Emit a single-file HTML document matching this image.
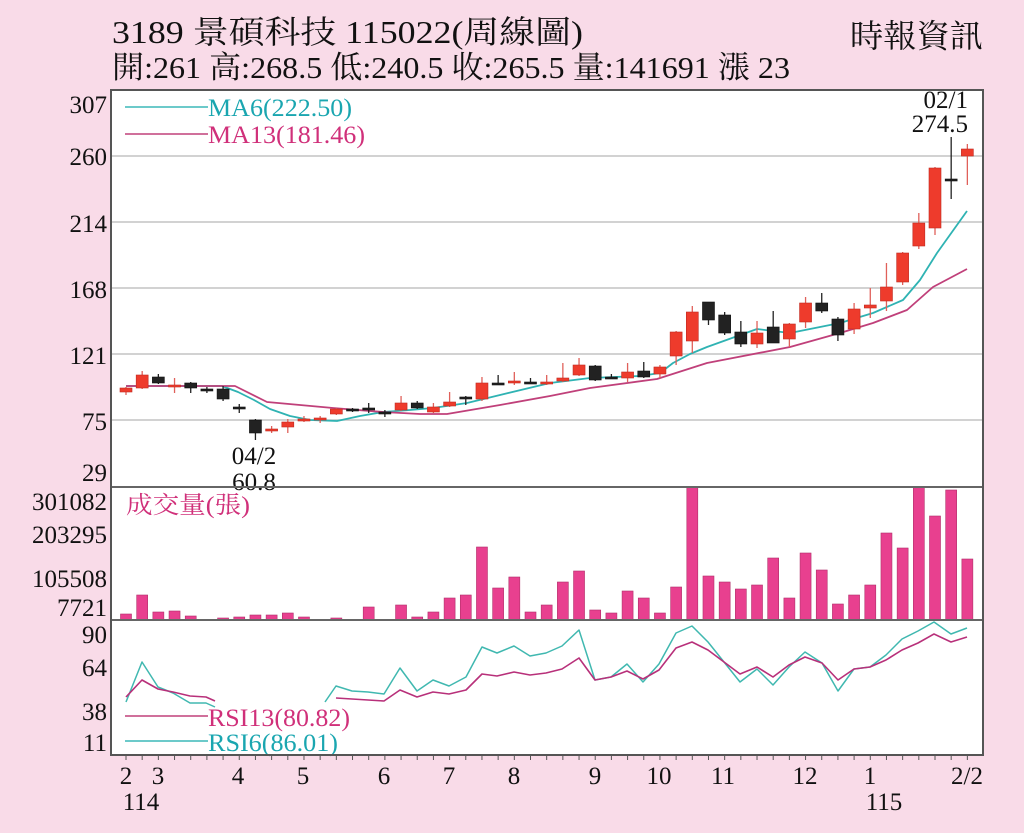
<!DOCTYPE html>
<html><head><meta charset="utf-8"><style>
html,body{margin:0;padding:0;background:#f9dbe8;}
svg{display:block}
text{font-family:"Liberation Serif","Noto Serif CJK SC",serif;}
</style></head><body>
<svg id="s" width="1024" height="833" viewBox="0 0 1024 833" xmlns="http://www.w3.org/2000/svg">
<rect x="0" y="0" width="1024" height="833" fill="#f9dbe8"/>
<text x="112" y="43" font-size="32" fill="#111" textLength="471" lengthAdjust="spacingAndGlyphs">3189  景碩科技 115022(周線圖)</text>
<text x="112" y="78" font-size="31" fill="#111" textLength="678" lengthAdjust="spacingAndGlyphs">開:261 高:268.5 低:240.5 收:265.5 量:141691 漲 23</text>
<text x="850" y="47" font-size="32" fill="#111" textLength="133" lengthAdjust="spacingAndGlyphs">時報資訊</text>
<rect x="111" y="90" width="872" height="665" fill="#fff"/>
<g stroke="#c4c4c4" stroke-width="1.5">
<line x1="111" y1="156" x2="983" y2="156"/><line x1="111" y1="222" x2="983" y2="222"/>
<line x1="111" y1="288" x2="983" y2="288"/><line x1="111" y1="354" x2="983" y2="354"/>
<line x1="111" y1="420" x2="983" y2="420"/>
</g>
<g font-size="25" fill="#111" text-anchor="end">
<text x="107" y="113">307</text><text x="107" y="165">260</text><text x="107" y="232">214</text>
<text x="107" y="298">168</text><text x="107" y="364">121</text><text x="107" y="430">75</text>
<text x="107" y="481">29</text>
<text x="107" y="510">301082</text><text x="107" y="543">203295</text><text x="107" y="587">105508</text>
<text x="107" y="616">7721</text>
<text x="107" y="643">90</text><text x="107" y="676">64</text><text x="107" y="720">38</text><text x="107" y="751">11</text>
</g>
<g id="g"></g>
<line x1="125" y1="107" x2="208" y2="107" stroke="#3bb8b8" stroke-width="1.5"/>
<text x="208" y="116" font-size="25" fill="#1aa6b0" textLength="144" lengthAdjust="spacingAndGlyphs">MA6(222.50)</text>
<line x1="125" y1="134" x2="208" y2="134" stroke="#c0407a" stroke-width="1.5"/>
<text x="208" y="143" font-size="25" fill="#d0307a" textLength="157" lengthAdjust="spacingAndGlyphs">MA13(181.46)</text>
<text x="126" y="513" font-size="24" fill="#d0307a" textLength="124" lengthAdjust="spacingAndGlyphs">成交量(張)</text>
<line x1="125" y1="716" x2="208" y2="716" stroke="#c0407a" stroke-width="1.5"/>
<text x="208" y="726" font-size="25" fill="#d0307a" textLength="142" lengthAdjust="spacingAndGlyphs">RSI13(80.82)</text>
<line x1="125" y1="741" x2="208" y2="741" stroke="#3bb8b8" stroke-width="1.5"/>
<text x="208" y="751" font-size="25" fill="#1aa6b0" textLength="130" lengthAdjust="spacingAndGlyphs">RSI6(86.01)</text>
<text x="254" y="464" font-size="25" fill="#111" text-anchor="middle">04/2</text>
<text x="254" y="490" font-size="25" fill="#111" text-anchor="middle">60.8</text>
<text x="968" y="108" font-size="25" fill="#111" text-anchor="end">02/1</text>
<text x="968" y="132" font-size="25" fill="#111" text-anchor="end">274.5</text>
<line x1="111" y1="487" x2="983" y2="487" stroke="#666" stroke-width="2"/>
<line x1="111" y1="620" x2="983" y2="620" stroke="#666" stroke-width="2"/>
<rect x="111" y="90" width="872" height="665" fill="none" stroke="#555" stroke-width="2"/>
<g font-size="25" fill="#111" text-anchor="middle">
<text x="126" y="784">2</text><text x="158" y="784">3</text><text x="238" y="784">4</text>
<text x="303" y="784">5</text><text x="384" y="784">6</text><text x="449" y="784">7</text>
<text x="514" y="784">8</text><text x="595" y="784">9</text><text x="659" y="784">10</text>
<text x="723" y="784">11</text><text x="805" y="784">12</text><text x="870" y="784">1</text>
<text x="967" y="784">2/2</text>
<text x="141" y="810">114</text><text x="884" y="810">115</text>
</g>
</svg>
<script>
var NS="http://www.w3.org/2000/svg",g=document.getElementById("g");
function el(n,a){var e=document.createElementNS(NS,n);for(var k in a)e.setAttribute(k,a[k]);g.appendChild(e);return e;}
function X(i){return 126+16.18*i;}
var C=[
["r",388,392,387,395],["r",375,388,371,389],["k",377,383,374,384],["r",385,386,378,393],["k",383,388,382,393],
["k",389,390,387,393],["k",389,399,386,401],["k",407,408,404,413],["k",420,433,419,440],["r",429,430,426,433],
["r",422,427,419,433],["r",419,420,416,422],["r",418,419,416,423],["r",409,414,408,415],["k",409,411,408,412],
["k",408,409,403,413],["k",412,413,410,417],["r",403,410,396,411],["k",403,408,401,409],["r",407,412,403,413],
["r",402,406,392,407],["k",397,398,396,405],["r",383,399,377,401],["k",383,384,375,385],["r",381,383,372,385],
["k",382,383,378,384],["r",382,384,375,385],["r",378,381,363,382],["r",365,375,358,376],["k",366,380,365,381],
["k",377,378,374,379],["r",372,378,363,382],["k",371,377,362,378],["r",367,374,365,378],["r",332,356,331,365],
["r",312,341,306,353],["k",302,320,302,325],["k",315,333,312,335],["k",332,344,321,347],["r",333,344,321,348],
["k",327,343,311,343],["r",324,339,323,347],["r",303,322,297,328],["k",303,311,293,313],["k",319,335,317,341],
["r",309,329,303,334],["r",305,308,288,318],["r",287,301,263,311],["r",253,282,252,285],["r",223,246,213,249],
["r",168,228,167,235],["k",179,181,137,199],["r",149,156,144,185]];
var V=[614,595,612,611,616,620,618,617,615,615,613,617,620,618,620,607,619,605,617,612,598,595,547,588,577,612,605,582,571,610,613,591,598,613,587,487,576,582,589,585,558,598,553,570,604,595,585,533,548,487,516,490,559];
V.forEach(function(t,i){if(t<619)el("rect",{x:X(i)-5.5,y:t,width:11,height:620-t,fill:"#e8408f",stroke:"#b0306a","stroke-width":0.6});});
function pl(pts,col,w){el("polyline",{points:pts,fill:"none",stroke:col,"stroke-width":w||1.8,"stroke-linejoin":"round"});}
pl("126,386 222,386 238,392 254,400 270,409 290,416 310,420 337,421 360,416 383,412 410,410 433,408 467,403 500,395 550,383 590,378 640,376 660,373 673,363 690,354 707,347 757,329 790,333 840,323 873,313 903,300 920,280 937,253 967,211","#2fb3b3");
pl("126,386 235,386 267,402 300,405 333,408 383,412 420,414 447,414 500,405 550,396 590,388 657,379 707,363 790,347 840,333 873,323 907,310 933,287 967,269","#c0407a");
C.forEach(function(c,i){var x=X(i),col=c[0]=="r"?"#ee3b2c":"#222",wc=c[0]=="r"?"#e0605a":"#222";
el("line",{x1:x,y1:c[3],x2:x,y2:c[4],stroke:wc,"stroke-width":1.3});
var h=Math.max(c[2]-c[1],2);el("rect",{x:x-6,y:c[1],width:12,height:h,fill:col,stroke:c[0]=="r"?"#c02a20":"#111","stroke-width":0.6});});
var R6a="126,702 142,662 158,687 173,693 190,703 206,703 215,707";
var R6b="325,702 336,686 352,691 368,692 384,694 400,668 417,691 433,680 449,686 466,677 482,647 497,653 514,646 530,656 546,653 562,646 579,630 595,680 611,677 627,664 643,682 659,664 676,633 692,626 708,642 724,662 740,682 757,669 773,685 789,667 805,652 822,663 838,691 854,669 870,667 886,655 902,639 918,631 934,622 951,634 967,628";
var R13a="126,697 142,680 158,689 173,692 190,696 206,697 215,701";
var R13b="336,698 352,699 368,700 384,701 400,690 417,697 433,692 449,694 466,690 482,674 497,676 514,672 530,675 546,673 562,669 579,658 595,680 611,677 627,671 643,679 659,670 676,648 692,642 708,650 724,662 740,674 757,667 773,677 789,665 805,657 822,663 838,680 854,669 870,667 886,660 902,650 918,643 934,634 951,642 967,637";
pl(R6a,"#40b8b0",1.5);pl(R6b,"#40b8b0",1.5);pl(R13a,"#b8307a",1.6);pl(R13b,"#b8307a",1.6);
for(var i=0;i<53;i++){el("line",{x1:X(i),y1:755,x2:X(i),y2:760,stroke:"#555","stroke-width":1});}
</script>
</body></html>
